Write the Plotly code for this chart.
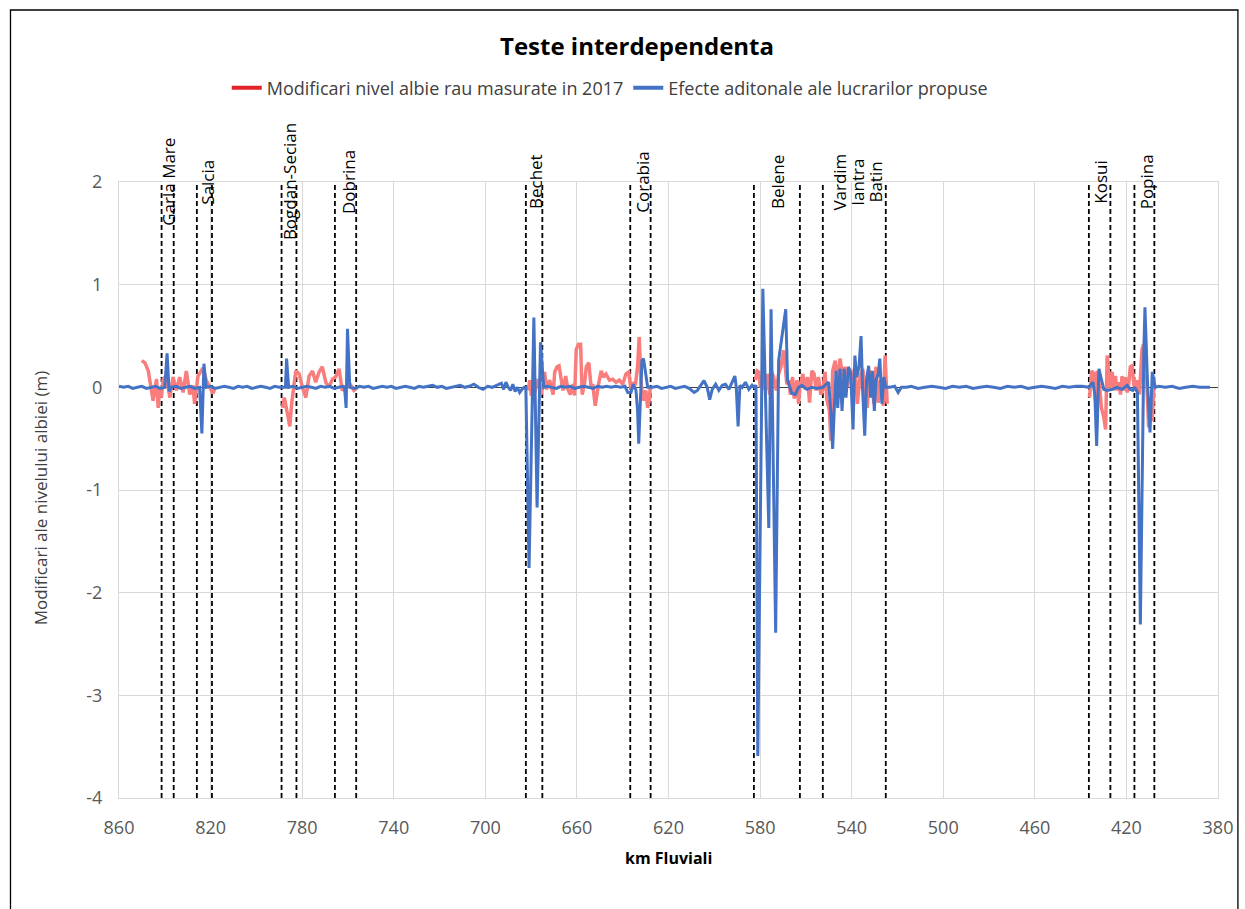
import plotly.graph_objects as go

# ---------------- data ----------------
title_text = "Teste interdependenta"
red_name = "Modificari nivel albie rau masurate in 2017"
blue_name = "Efecte aditonale ale lucrarilor propuse"
x_ticks = [860, 820, 780, 740, 700, 660, 620, 580, 540, 500, 460, 420, 380]
y_ticks = [2, 1, 0, -1, -2, -3, -4]

# measured river bed changes 2017 (km, m); None separates the surveyed reaches
red_km = [850.1, 848.7, 847.2, 846.5, 845.1, 843.6, 842.9, 842.2, 841.5, 840.7, 839.3, 837.8, 836.4,
          834.9, 833.5, 832.0, 830.6, 829.1, 827.7, 827.0, 825.5, 823.3, 821.9, 820.4, 819.0, 818.3,
          None,
          788.6, 787.8, 786.4, 785.4, 784.6, 783.5, 782.8, 781.3, 779.9, 778.4, 777.0, 775.5, 774.1,
          772.6, 771.2, 769.7, 768.3, 766.8, 765.4, 763.9, 762.5, 761.0, 758.8, 757.4, 755.9,
          None,
          681.3, 680.6, 679.9, 678.4, 677.0, 675.5, 674.1, 673.3, 671.9, 670.4, 669.7, 668.7, 667.8,
          666.8, 666.1, 664.9, 663.9, 662.9, 661.7, 661.0, 660.3, 659.3, 658.4, 657.7, 656.7, 655.9,
          654.8, 653.8, 653.1, 652.0, 651.3, 650.4, 649.4, 648.4, 647.3, 645.8, 644.4, 642.9, 641.5,
          640.0, 638.6, 637.4, 636.4, 635.4, 634.5, 633.5, 632.8, 632.0, 631.0, 629.9, 629.1, 628.4, 628.0,
          None,
          582.0, 581.3, 580.6, 579.9, 578.7, 577.7, 576.7, 575.8, 575.1, 574.1, 572.9, 571.9, 570.9,
          569.7, 568.3, 567.5, 566.8, 565.8, 565.1, 563.9, 563.2, 562.5, 561.3, 560.3, 559.3, 558.4,
          557.4, 556.4, 555.5, 554.5, 553.5, 552.6, 551.6, 550.9, 549.7, 549.1, 548.3, 547.2, 546.2,
          545.1, 543.9, 542.9, 541.9, 540.7, 539.6, 538.6, 537.5, 536.4, 535.2, 534.2, 533.2, 532.3,
          531.3, 530.3, 529.4, 528.4, 527.4, 526.2, 525.4, 524.8, 524.5,
          None,
          436.1, 435.2, 434.2, 433.5, 432.8, 431.7, 430.9, 429.9, 429.1, 428.4, 427.7, 426.9, 426.2,
          425.5, 424.8, 424.1, 423.3, 422.6, 421.9, 421.2, 420.4, 419.7, 419.0, 418.3, 417.5, 416.8,
          416.1, 415.4, 414.3, 413.2, 412.5, 411.7, 411.0, 410.3, 409.6, 408.8, 408.1, 407.7]
red_m = [0.26, 0.24, 0.16, 0.07, -0.13, 0.08, -0.20, 0.00, -0.10, 0.08, 0.11, -0.10, 0.10,
         -0.03, 0.10, -0.05, 0.16, -0.07, 0.02, -0.16, 0.11, 0.19, 0.07, 0.00, -0.06, -0.02,
         None,
         -0.20, -0.10, -0.26, -0.38, -0.16, 0.07, 0.16, 0.13, 0.00, -0.10, 0.11, 0.16, 0.05,
         0.15, 0.20, 0.05, 0.00, 0.08, 0.10, 0.18, -0.03, 0.00, 0.02, -0.03, 0.00,
         None,
         -0.03, 0.07, -0.08, -0.05, 0.08, -0.07, 0.15, -0.02, 0.07, -0.07, 0.15, 0.20, 0.21,
         0.08, -0.03, 0.11, -0.02, -0.07, 0.03, -0.08, 0.37, 0.42, 0.42, -0.07, 0.03, 0.20,
         0.24, 0.00, 0.03, -0.18, -0.07, 0.05, 0.16, 0.10, 0.13, 0.07, 0.08, 0.05, 0.07,
         0.03, 0.13, 0.15, -0.02, 0.05, 0.02, 0.20, 0.49, 0.05, -0.13, -0.03, -0.20, -0.13, 0.00,
         None,
         0.07, 0.16, 0.15, 0.00, 0.10, -0.03, 0.13, -0.07, 0.16, 0.10, -0.03, 0.13, 0.20,
         0.36, 0.03, 0.07, -0.07, 0.10, -0.11, 0.07, -0.16, 0.02, 0.13, -0.02, 0.10, -0.15,
         0.16, 0.13, -0.03, 0.10, -0.07, -0.02, 0.15, -0.11, -0.23, -0.52, 0.16, 0.26, 0.03,
         0.28, 0.10, 0.20, 0.00, 0.18, 0.07, 0.20, -0.16, 0.10, 0.18, 0.03, -0.20, 0.16,
         0.13, -0.16, 0.20, -0.15, 0.07, -0.18, 0.31, 0.00, -0.16,
         None,
         -0.10, 0.16, 0.13, -0.13, 0.16, 0.00, -0.20, -0.29, -0.41, 0.31, 0.13, -0.03, 0.15,
         -0.03, 0.11, -0.03, 0.05, -0.07, 0.11, -0.03, 0.10, -0.05, 0.03, 0.20, 0.21, 0.03,
         -0.03, 0.07, -0.07, 0.37, 0.42, 0.29, -0.03, -0.39, -0.13, -0.33, -0.03, 0.00]

# additional effects of the proposed works (km, m)
blue_km = [860, 858, 856, 854, 852, 850, 848, 846, 844, 842, 840.0, 839.0, 838.1, 837.1,
           835, 833, 831, 829, 827, 825.5, 824.8, 823.8, 822.9, 821.9,
           820, 818, 816, 814, 812, 810, 808, 806, 804, 802, 800, 798, 796, 794, 792, 790, 788,
           787.3, 786.8, 785.9,
           784, 782, 780, 778, 776, 774, 772, 770, 768, 766, 764, 762,
           761.5, 760.8, 760.2, 759.2,
           757, 755, 753, 751, 749, 747, 745, 743, 741, 739, 737, 735, 733, 731, 729, 727, 725,
           723, 721, 719, 717, 715, 713, 711, 709, 707, 705, 703, 701, 699, 697, 695, 693, 692,
           691, 690, 689, 688, 687, 686, 685, 684, 683, 682.3,
           680.9, 678.8, 677.4, 675.9, 674.5,
           673, 671, 669, 667, 665, 663, 661, 659, 657, 655, 653, 651, 649, 647, 645, 643, 641,
           639, 637.8,
           636.4, 635.4, 634.2, 633.5, 633.0, 632.5, 631.6, 630.9, 629.9, 629.1,
           627, 625, 623, 621, 619, 617, 615, 613, 611, 608.8, 607.4, 606.0, 604.5, 603.1, 602.0,
           600.9, 599.4, 598.0, 596.5, 595.1, 593.6, 592.2, 591.0, 590.4, 589.6, 588.8, 587.8,
           586.4, 584.9, 583.5, 582.5, 581.8,
           581.0, 578.8, 576.2, 575.2, 573.2, 571.9, 568.8, 568.0, 566.1, 564.6, 563.2, 561.7,
           559.6, 557.4, 555.2, 552.6, 551.6, 550.1, 549.1, 548.3, 547.5, 546.8, 546.1, 545.1,
           544.2, 543.3, 542.5, 541.4, 540.4, 539.4, 538.6, 537.8, 536.8, 535.9, 535.2, 534.3,
           533.5, 532.6, 531.7, 530.9, 530.1, 529.4, 528.4, 527.7, 526.8, 525.9, 525.1, 523.3,
           521.2, 519.7, 518.3, 516,
           514, 511, 508, 505, 502, 499, 496, 493, 490, 487, 484, 481, 478, 475, 472, 469, 466,
           463, 460, 457, 454, 451, 448, 445, 442, 439.3, 436.4,
           435.6, 434.6, 433.8, 433.0, 432.0, 430.9, 429.9, 428.4, 426.2, 424.1, 421.9, 419.7,
           418.3, 417.2, 416.4, 415.2, 413.9, 412.4, 411.9, 410.8, 409.7, 408.7, 407.4, 405.9,
           403, 400, 397, 394, 391, 388, 385.5, 383.5]
blue_m = [0.01, 0.00, 0.01, -0.01, 0.00, 0.01, -0.01, 0.00, 0.01, -0.01, 0.00, 0.33, -0.04, 0.00,
          0.01, -0.01, 0.00, 0.01, -0.01, 0.00, 0.00, -0.45, 0.23, 0.00,
          0.01, -0.01, 0.00, 0.01, 0.00, -0.01, 0.01, 0.00, 0.01, -0.01, 0.00, 0.01, 0.00, -0.01,
          0.01, 0.00, 0.00,
          0.00, 0.28, 0.00,
          0.01, -0.01, 0.00, 0.01, 0.00, -0.01, 0.01, 0.00, 0.01, -0.01, 0.00, 0.01,
          0.00, -0.20, 0.57, 0.00,
          -0.01, 0.01, 0.00, 0.01, -0.01, 0.00, 0.01, 0.00, 0.01, -0.01, 0.00, 0.01, 0.00, -0.01,
          0.01, 0.00, 0.01, 0.02, 0.00, 0.01, -0.01, 0.00, 0.01, 0.02, 0.00, 0.01, 0.03, 0.00,
          -0.02, 0.01, 0.00, 0.02, 0.04, -0.02, 0.05, 0.00, -0.03, 0.03, -0.04, 0.00, -0.05,
          -0.02, 0.00, 0.00,
          -1.76, 0.68, -1.17, 0.44, 0.00,
          0.01, 0.00, -0.01, 0.01, 0.00, 0.01, -0.01, 0.00, 0.01, 0.00, -0.01, 0.01, 0.00, 0.01,
          0.00, 0.01, 0.00, 0.01, -0.05,
          -0.05, 0.03, -0.03, -0.23, -0.55, -0.20, 0.26, 0.28, 0.10, 0.00,
          0.00, 0.01, -0.01, 0.00, 0.01, -0.01, 0.00, 0.01, -0.01, -0.05, -0.03, 0.02, 0.065, 0.00,
          -0.12, -0.02, 0.03, -0.03, 0.02, 0.03, -0.02, 0.05, 0.11, 0.00, -0.38, 0.02, 0.00,
          0.05, -0.02, 0.02, 0.00, 0.02,
          -3.59, 0.96, -1.37, 0.76, -2.39, 0.26, 0.76, 0.07, -0.06, -0.07, 0.00, 0.02,
          -0.02, 0.00, -0.01, 0.00, 0.02, 0.05, -0.23, -0.60, -0.16, 0.16, -0.20, 0.18,
          -0.23, 0.18, -0.10, 0.20, 0.13, -0.41, 0.31, 0.10, 0.20, 0.50, -0.03, -0.47,
          0.07, 0.21, -0.10, 0.16, -0.23, 0.07, 0.13, 0.28, -0.16, 0.10, 0.00, 0.00,
          0.01, -0.05, 0.00, 0.00,
          0.01, -0.01, 0.00, 0.01, 0.00, -0.01, 0.01, 0.00, 0.01, -0.01, 0.00, 0.01, 0.00, -0.01,
          0.01, 0.00, 0.01, -0.01, 0.00, 0.01, 0.00, -0.01, 0.01, 0.00, 0.01, 0.01, 0.00,
          0.02, 0.05, -0.07, -0.57, 0.18, 0.07, -0.02, -0.03, -0.02, 0.00, -0.02, 0.02,
          -0.02, -0.03, 0.00, -0.05, -2.31, 0.35, 0.78, 0.05, -0.44, 0.15, 0.00, 0.01,
          0.00, 0.01, -0.01, 0.00, 0.01, 0.00, 0.00, 0.00]

# works limits (vertical dashed lines) in km
limit_km = [841.4, 836.1, 826.0, 819.4, 789.0, 782.5, 765.7, 756.4, 682.3, 675.1,
            636.7, 627.8, 582.7, 562.6, 552.6, 525.1, 436.4, 427.0, 416.5, 407.8]

# site names and their label positions in km
site_names = ["Garla Mare", "Salcia", "Bogdan-Secian", "Dobrina", "Bechet", "Corabia",
              "Belene", "Vardim", "Iantra", "Batin", "Kosui", "Popina"]
site_km = [838.7, 821.7, 785.7, 760.0, 678.3, 631.7, 572.6, 545.7, 537.8, 530.0, 431.7, 411.3]

# ---------------- figure ----------------
FONT = "Open Sans, Noto Sans, DejaVu Sans, sans-serif"
fig = go.Figure()

# dashed limits
for i, k in enumerate(limit_km):
    fig.add_trace(go.Scatter(x=[k, k], y=[y_ticks[-1], y_ticks[0]], mode="lines",
                             line=dict(color="black", width=1.8, dash="5px,3px"),
                             showlegend=False, hoverinfo="skip"))

fig.add_trace(go.Scatter(x=red_km, y=red_m, mode="lines", name=red_name,
                         line=dict(color="#FA7D7D", width=3.5), showlegend=False,
                         connectgaps=False))
fig.add_trace(go.Scatter(x=blue_km, y=blue_m, mode="lines", name=blue_name,
                         line=dict(color="#4472C4", width=3), showlegend=False))

# legend entries
fig.add_trace(go.Scatter(x=[None], y=[None], mode="lines", name=red_name,
                         line=dict(color="#E3242B", width=4)))
fig.add_trace(go.Scatter(x=[None], y=[None], mode="lines", name=blue_name,
                         line=dict(color="#4472C4", width=4)))

W, H = 1245, 909
L, R, T, B = 119, 1223, 182, 798
pw, ph = R - L, B - T


def px_x(p):
    return (p - L) / pw


def px_y(p):
    return (B - p) / ph


annotations = []
for name, k in zip(site_names, site_km):
    annotations.append(dict(x=k, y=y_ticks[0], xref="x", yref="y", text=name, textangle=-90,
                            showarrow=False, xanchor="center", yanchor="middle",
                            font=dict(family=FONT, size=17, color="black")))

annotations.append(dict(x=px_x(639), y=px_y(45), xref="paper", yref="paper", text="<b>" + title_text + "</b>",
                        showarrow=False, xanchor="center", yanchor="middle",
                        font=dict(family=FONT, size=24, color="black")))
annotations.append(dict(x=0.5, y=px_y(858), xref="paper", yref="paper", text="<b>km Fluviali</b>",
                        showarrow=False, xanchor="center", yanchor="middle",
                        font=dict(family=FONT, size=16, color="black")))
annotations.append(dict(x=px_x(40), y=px_y(498), xref="paper", yref="paper",
                        text="Modificari ale nivelului albiei (m)", textangle=-90,
                        showarrow=False, xanchor="center", yanchor="middle",
                        font=dict(family=FONT, size=17, color="#404040")))

fig.update_layout(
    width=W, height=H,
    margin=dict(l=L, r=W - R, t=T, b=H - B, pad=0),
    paper_bgcolor="white", plot_bgcolor="white",
    font=dict(family=FONT, color="#404040"),
    showlegend=True,
    legend=dict(orientation="h", x=px_x(612), y=px_y(88), xanchor="center", yanchor="middle",
                font=dict(family=FONT, size=18, color="#404040"), bgcolor="rgba(0,0,0,0)",
                itemwidth=30),
    annotations=annotations,
    shapes=[dict(type="rect", xref="paper", yref="paper",
                 x0=px_x(10), x1=px_x(1243), y0=px_y(930), y1=px_y(10),
                 line=dict(color="black", width=1.3), fillcolor="rgba(0,0,0,0)", layer="below")],
)
fig.update_xaxes(range=[x_ticks[0], x_ticks[-1]], tickvals=x_ticks, ticktext=[str(v) for v in x_ticks],
                 showgrid=True, gridcolor="#D9D9D9", gridwidth=1, zeroline=False,
                 showline=True, mirror=True, linecolor="#D9D9D9", linewidth=1, ticks="",
                 tickfont=dict(family=FONT, size=18, color="#595959"), ticklabelstandoff=13)
fig.update_yaxes(range=[y_ticks[-1], y_ticks[0]], tickvals=y_ticks, ticktext=[str(v) for v in y_ticks],
                 showgrid=True, gridcolor="#D9D9D9", gridwidth=1,
                 zeroline=True, zerolinecolor="#404040", zerolinewidth=1,
                 showline=True, mirror=True, linecolor="#D9D9D9", linewidth=1, ticks="",
                 tickfont=dict(family=FONT, size=18, color="#595959"), ticklabelstandoff=12)

fig.write_html("out.html", config={"displayModeBar": False},
               post_script="document.body.style.margin='0';document.body.style.overflow='hidden';")
